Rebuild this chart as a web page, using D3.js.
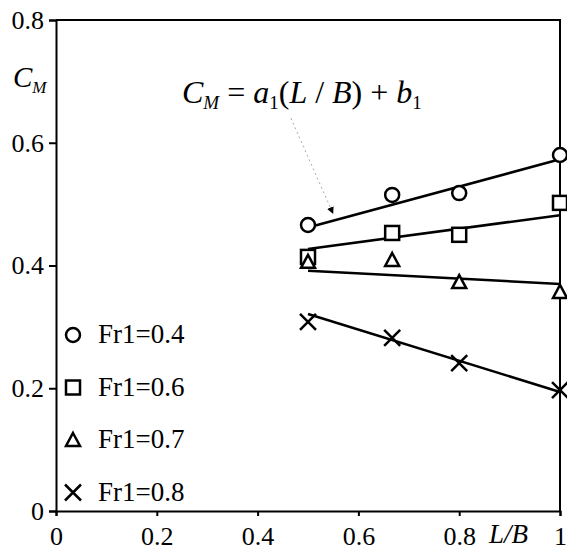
<!DOCTYPE html>
<html>
<head>
<meta charset="utf-8">
<script src="https://d3js.org/d3.v7.min.js"></script>
<style>
  body { margin: 0; background: #fff; }
  svg text { font-family: "Liberation Serif", "Times New Roman", serif !important; fill: #000; }
</style>
</head>
<body>
<script>
// L/B ratios where the runs were made
const lb = [0.5, 0.667, 0.8, 1.0];

// series names and measured C_M values
const seriesNames = ['Fr1=0.4', 'Fr1=0.6', 'Fr1=0.7', 'Fr1=0.8'];
const cmFr04 = [0.466, 0.515, 0.518, 0.580];
const cmFr06 = [0.414, 0.453, 0.450, 0.502];
const cmFr07 = [0.406, 0.409, 0.373, 0.357];
const cmFr08 = [0.308, 0.282, 0.241, 0.197];

// fitted lines C_M = a1 (L/B) + b1
const fitA = [0.222, 0.110, -0.043, -0.254];
const fitB = [0.351, 0.372, 0.413, 0.448];
const fitRange = [0.5, 1.0];

const xTicks = [0, 0.2, 0.4, 0.6, 0.8, 1];
const yTicks = [0, 0.2, 0.4, 0.6, 0.8];

const width = 567, height = 558;
const serif = '"Liberation Serif", "Times New Roman", serif';
const x = d3.scaleLinear().domain([0, 1]).range([56, 560]);
const y = d3.scaleLinear().domain([0, 0.8]).range([511, 20]);

const svg = d3.select('body').append('svg')
  .attr('width', width)
  .attr('height', height)
  .style('font-family', serif);

// marker shapes
const shapes = ['circle', 'square', 'triangle', 'cross'];
function drawMarker(g, shape, cx, cy) {
  if (shape === 'circle') {
    g.append('circle').attr('cx', cx).attr('cy', cy).attr('r', 7)
      .attr('fill', '#fff').attr('stroke', '#000').attr('stroke-width', 2.5);
  } else if (shape === 'square') {
    g.append('rect').attr('x', cx - 7).attr('y', cy - 7).attr('width', 14).attr('height', 14)
      .attr('fill', '#fff').attr('stroke', '#000').attr('stroke-width', 2.5);
  } else if (shape === 'triangle') {
    g.append('path')
      .attr('d', `M${cx},${cy - 7}L${cx + 7},${cy + 6}L${cx - 7},${cy + 6}Z`)
      .attr('fill', '#fff').attr('stroke', '#000').attr('stroke-width', 2.5)
      .attr('stroke-linejoin', 'miter');
  } else {
    g.append('path')
      .attr('d', `M${cx - 8},${cy - 8}L${cx + 8},${cy + 8}M${cx - 8},${cy + 8}L${cx + 8},${cy - 8}`)
      .attr('stroke', '#000').attr('stroke-width', 2.5).attr('fill', 'none');
  }
}

// frame
svg.append('path')
  .attr('d', `M${x(0)},${y(0.8)}H${x(1)}V${y(0)}`)
  .attr('fill', 'none').attr('stroke', '#000').attr('stroke-width', 2);

// x axis
const xAxis = svg.append('g')
  .attr('transform', `translate(0,${y(0)})`)
  .call(d3.axisBottom(x).tickValues(xTicks).tickSize(5).tickPadding(11)
    .tickFormat(d => d3.format('')(d)));
xAxis.attr('font-family', serif);
xAxis.select('.domain').attr('stroke-width', 2);
xAxis.selectAll('.tick line').attr('stroke-width', 2);
xAxis.selectAll('.tick text').attr('font-size', 26).style('font-family', serif);

// y axis
const yAxis = svg.append('g')
  .attr('transform', `translate(${x(0)},0)`)
  .call(d3.axisLeft(y).tickValues(yTicks).tickSize(7).tickPadding(5)
    .tickFormat(d => d3.format('')(d)));
yAxis.attr('font-family', serif);
yAxis.select('.domain').attr('stroke-width', 2);
yAxis.selectAll('.tick line').attr('stroke-width', 2);
yAxis.selectAll('.tick text').attr('font-size', 26).style('font-family', serif);

// axis titles
const cm = svg.append('text').attr('x', 13).attr('y', 87)
  .attr('font-size', 29).attr('font-style', 'italic');
cm.append('tspan').text('C');
cm.append('tspan').attr('font-size', 17).attr('dy', 6).text('M');

svg.append('text').attr('x', 489).attr('y', 543)
  .attr('font-size', 27).attr('font-style', 'italic').text('L/B');

// fit lines
const seriesData = [cmFr04, cmFr06, cmFr07, cmFr08];
const line = d3.line().x(d => x(d[0])).y(d => y(d[1]));
fitA.forEach((a, i) => {
  svg.append('path')
    .datum(fitRange.map(v => [v, a * v + fitB[i]]))
    .attr('d', line)
    .attr('fill', 'none').attr('stroke', '#000').attr('stroke-width', 2.5);
});

// data points
const pts = svg.append('g');
seriesData.forEach((vals, i) => {
  vals.forEach((v, j) => drawMarker(pts, shapes[i], x(lb[j]), y(v)));
});

// annotation
const eq = svg.append('text').attr('x', 182).attr('y', 103)
  .attr('font-size', 32).attr('font-style', 'italic');
eq.append('tspan').text('C');
eq.append('tspan').attr('font-size', 19).attr('dy', 6).text('M');
eq.append('tspan').attr('dy', -6).attr('font-style', 'normal').text(' = ');
eq.append('tspan').text('a');
eq.append('tspan').attr('font-size', 19).attr('dy', 6).attr('font-style', 'normal').text('1');
eq.append('tspan').attr('dy', -6).attr('font-style', 'normal').text('(');
eq.append('tspan').text('L');
eq.append('tspan').attr('font-style', 'normal').text(' / ');
eq.append('tspan').text('B');
eq.append('tspan').attr('font-style', 'normal').text(') + ');
eq.append('tspan').text('b');
eq.append('tspan').attr('font-size', 19).attr('dy', 6).attr('font-style', 'normal').text('1');

// arrow from equation to the top fit line
svg.append('defs').append('marker')
  .attr('id', 'arrowhead')
  .attr('viewBox', '0 -5 10 10')
  .attr('refX', 10).attr('refY', 0)
  .attr('markerWidth', 7).attr('markerHeight', 7)
  .attr('markerUnits', 'userSpaceOnUse')
  .attr('orient', 'auto')
  .append('path').attr('d', 'M0,-5L10,0L0,5Z').attr('fill', '#000');

svg.append('line')
  .attr('x1', x(0.466)).attr('y1', y(0.640))
  .attr('x2', x(0.55)).attr('y2', y(0.484))
  .attr('stroke', '#aaa').attr('stroke-width', 1)
  .attr('stroke-dasharray', '2,3')
  .attr('marker-end', 'url(#arrowhead)');

// legend
const legend = svg.append('g');
seriesNames.forEach((name, i) => {
  const ly = 335 + i * 52.5;
  drawMarker(legend, shapes[i], 73, ly);
  legend.append('text').attr('x', 98).attr('y', ly + 8)
    .attr('font-size', 27).text(name);
});
</script>
</body>
</html>
